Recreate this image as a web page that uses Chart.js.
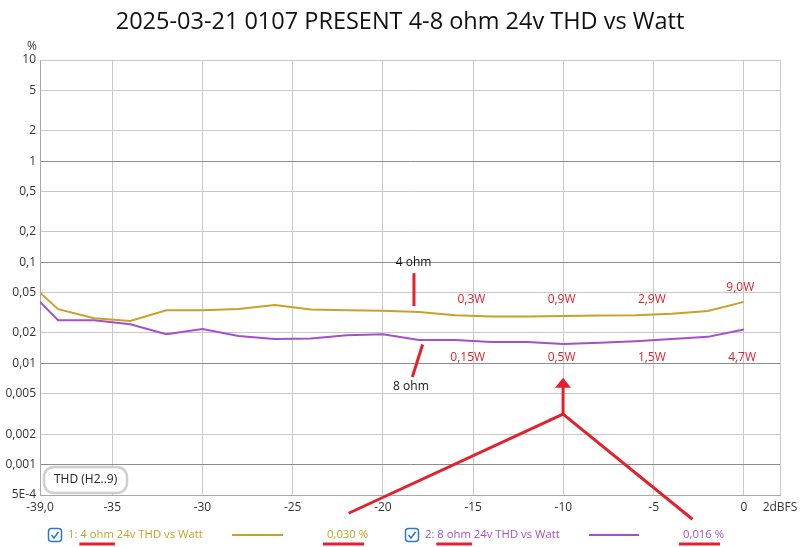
<!DOCTYPE html>
<html>
<head>
<meta charset="utf-8">
<script src="https://cdn.jsdelivr.net/npm/chart.js@4.4.1/dist/chart.umd.min.js"></script>
<style>
  html, body { margin: 0; padding: 0; background: #fff; }
  #wrap { width: 800px; height: 547px; }
</style>
</head>
<body>
<div id="wrap"><canvas id="thdChart"></canvas></div>
<script>
// level sweep, dBFS
const dbfs = [-39, -38, -36, -34, -32, -30, -28, -26, -24, -22, -20, -18, -16, -14, -12, -10, -8, -6, -4, -2, 0];
// THD in %
const thd4ohm = [0.050, 0.0344, 0.028, 0.0263, 0.0336, 0.0336, 0.0345, 0.0379, 0.0341, 0.0335, 0.0331, 0.0323, 0.0300, 0.0291, 0.0291, 0.0295, 0.0297, 0.0300, 0.0310, 0.0330, 0.0406];
const thd8ohm = [0.0406, 0.0267, 0.0267, 0.0244, 0.0194, 0.0219, 0.0187, 0.0174, 0.0176, 0.0190, 0.0194, 0.0170, 0.0170, 0.0163, 0.0163, 0.0156, 0.0160, 0.0166, 0.0174, 0.0183, 0.0216];

const yTicks = [10, 5, 2, 1, 0.5, 0.2, 0.1, 0.05, 0.02, 0.01, 0.005, 0.002, 0.001, 0.0005];
const yTickLabels = ['10', '5', '2', '1', '0,5', '0,2', '0,1', '0,05', '0,02', '0,01', '0,005', '0,002', '0,001', '5E-4'];
const xTicks = [-39, -35, -30, -25, -20, -15, -10, -5, 0, 2];
const xTickLabels = ['-39,0', '-35', '-30', '-25', '-20', '-15', '-10', '-5', '0', '2dBFS'];

const seriesNames = ['1: 4 ohm 24v THD vs Watt', '2: 8 ohm 24v THD vs Watt'];
const cursorValues = ['0,030 %', '0,016 %'];
const wattLabels4 = ['0,3W', '0,9W', '2,9W', '9,0W'];
const wattLabels8 = ['0,15W', '0,5W', '1,5W', '4,7W'];

const GOLD = '#c8a12a';
const PURPLE = '#a54fcf';
const RED = '#e3202b';
const FONT = '"Open Sans", "Noto Sans", sans-serif';

const decades = [1, 0.1, 0.01, 0.001];

// notes drawn on top of the plot, placed in data units (dBFS, %)
const overlay = {
  id: 'overlay',
  afterDraw(chart) {
    const { ctx, scales: { x, y } } = chart;
    const px = v => x.getPixelForValue(v);
    const py = v => y.getPixelForValue(v);
    ctx.save();

    // title
    ctx.fillStyle = '#111';
    ctx.font = '23.5px ' + FONT;
    ctx.textAlign = 'center';
    ctx.textBaseline = 'middle';
    ctx.fillText('2025-03-21 0107 PRESENT 4-8 ohm 24v THD vs Watt', 400, 22);

    ctx.font = '12px ' + FONT;
    ctx.fillStyle = '#333';
    ctx.fillText('%', 32, 47);

    // THD (H2..9) tag
    ctx.beginPath();
    ctx.roundRect(44, 467, 83, 26, 10);
    ctx.fillStyle = '#fff';
    ctx.fill();
    ctx.lineWidth = 2.5;
    ctx.strokeStyle = '#cfcfcf';
    ctx.stroke();
    ctx.fillStyle = '#222';
    ctx.textAlign = 'left';
    ctx.fillText('THD (H2..9)', 54, 480);

    // wattage labels
    ctx.fillStyle = RED;
    ctx.textAlign = 'center';
    const topX = [-15.1, -10.1, -5.1, -0.2];
    const topY = [0.043, 0.043, 0.043, 0.056];
    wattLabels4.forEach((t, i) => ctx.fillText(t, px(topX[i]), py(topY[i])));
    const botX = [-15.3, -10.1, -5.1, -0.1];
    wattLabels8.forEach((t, i) => ctx.fillText(t, px(botX[i]), py(0.0115)));

    ctx.fillStyle = '#111';
    ctx.fillText('4 ohm', px(-18.3), py(0.0986));
    ctx.fillText('8 ohm', px(-18.45), py(0.00586));

    // red pointers
    ctx.strokeStyle = RED;
    ctx.lineWidth = 3;
    const seg = (a, b, c, d) => { ctx.beginPath(); ctx.moveTo(px(a), py(b)); ctx.lineTo(px(c), py(d)); ctx.stroke(); };
    seg(-18.28, 0.078, -18.28, 0.0368);
    seg(-17.8, 0.01538, -18.37, 0.00735);
    seg(-21.9, 0.00033, -10.02, 0.00315);
    seg(-10.02, 0.00315, -2.85, 0.000288);
    seg(-10.02, 0.00315, -10.02, 0.0062);
    // arrow head
    const hx = px(-10.02), hy = py(0.0069);
    ctx.beginPath();
    ctx.moveTo(hx, hy - 2);
    ctx.lineTo(hx - 8, hy + 8);
    ctx.lineTo(hx + 8, hy + 8);
    ctx.closePath();
    ctx.fillStyle = RED;
    ctx.fill();

    // bottom legend
    const rows = [
      { box: 48, text: 68, line: [232, 283], val: 327, color: GOLD },
      { box: 405, text: 425, line: [589, 639], val: 683, color: PURPLE }
    ];
    const ly = 535;
    rows.forEach((r, i) => {
      ctx.beginPath();
      ctx.roundRect(r.box + 0.5, ly - 6.5, 13, 13, 3);
      ctx.fillStyle = '#fff';
      ctx.fill();
      ctx.lineWidth = 1.5;
      ctx.strokeStyle = '#2b78d0';
      ctx.stroke();
      ctx.beginPath();
      ctx.moveTo(r.box + 3.5, ly);
      ctx.lineTo(r.box + 6, ly + 3);
      ctx.lineTo(r.box + 10.5, ly - 3);
      ctx.lineWidth = 1.6;
      ctx.stroke();

      ctx.font = '11.3px ' + FONT;
      ctx.textAlign = 'left';
      ctx.fillStyle = r.color;
      ctx.fillText(seriesNames[i], r.text, ly);
      ctx.fillText(cursorValues[i], r.val, ly);
      ctx.beginPath();
      ctx.moveTo(r.line[0], ly);
      ctx.lineTo(r.line[1], ly);
      ctx.lineWidth = 2;
      ctx.strokeStyle = r.color;
      ctx.stroke();

      // red underline under the load and the cursor value
      const name = seriesNames[i];
      const a = ctx.measureText(name.slice(0, 3)).width;
      const b = ctx.measureText(name.slice(0, 8)).width;
      const w = ctx.measureText(cursorValues[i]).width;
      ctx.strokeStyle = RED;
      ctx.lineWidth = 3;
      [[r.text + a - 1, r.text + b + 1], [r.val - 4, r.val + w - 4]].forEach(u => {
        ctx.beginPath();
        ctx.moveTo(u[0], ly + 9);
        ctx.lineTo(u[1], ly + 9);
        ctx.stroke();
      });
    });
    ctx.restore();
  }
};

new Chart(document.getElementById('thdChart'), {
  type: 'line',
  data: {
    datasets: [
      {
        label: seriesNames[0],
        data: dbfs.map((v, i) => ({ x: v, y: thd4ohm[i] })),
        borderColor: GOLD,
        borderWidth: 2,
        pointRadius: 0,
        tension: 0
      },
      {
        label: seriesNames[1],
        data: dbfs.map((v, i) => ({ x: v, y: thd8ohm[i] })),
        borderColor: PURPLE,
        borderWidth: 2,
        pointRadius: 0,
        tension: 0
      }
    ]
  },
  options: {
    responsive: true,
    maintainAspectRatio: false,
    animation: false,
    layout: { padding: { top: 60, right: 20, left: 0, bottom: 0 } },
    plugins: {
      legend: { display: false },
      title: { display: false },
      tooltip: { enabled: false }
    },
    scales: {
      x: {
        type: 'linear',
        min: -39,
        max: 2,
        afterBuildTicks: s => { s.ticks = xTicks.map(v => ({ value: v })); },
        afterFit: s => { s.height = 52; s.paddingLeft = 0; s.paddingRight = 0; },
        ticks: {
          autoSkip: false,
          maxRotation: 0,
          padding: 5,
          color: '#333',
          font: { size: 12, family: FONT },
          callback: (v, i) => xTickLabels[i]
        },
        grid: { color: '#c8c8c8', drawTicks: false },
        border: { color: '#a8a8a8' }
      },
      y: {
        type: 'logarithmic',
        min: 0.0005,
        max: 10,
        afterBuildTicks: s => { s.ticks = yTicks.map(v => ({ value: v })); },
        afterFit: s => { s.width = 40; s.paddingTop = 0; s.paddingBottom = 0; },
        ticks: {
          autoSkip: false,
          padding: 4,
          color: '#333',
          font: { size: 12, family: FONT },
          callback: (v, i) => yTickLabels[i]
        },
        grid: {
          drawTicks: false,
          color: c => (c.tick && decades.some(d => Math.abs(c.tick.value - d) < d * 1e-6)) ? '#8c8c8c' : '#c8c8c8'
        },
        border: { color: '#a8a8a8' }
      }
    }
  },
  plugins: [overlay]
});
</script>
</body>
</html>
